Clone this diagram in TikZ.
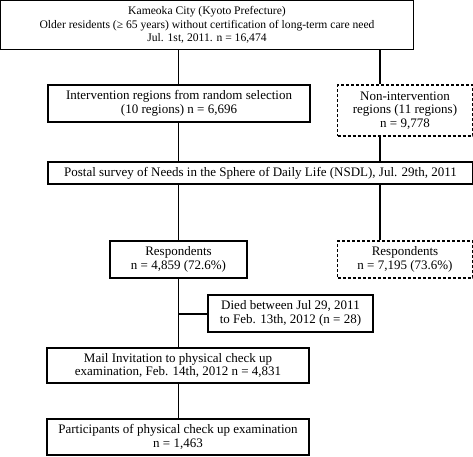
\documentclass[tikz,border=0pt]{standalone}
\usepackage{fontspec}
\setmainfont{Liberation Serif}
\begin{document}
\begin{tikzpicture}[x=1pt,y=1pt,
  box/.style={draw=black, line width=1.1pt, rectangle, inner sep=0pt, align=center,
    font=\fontsize{13}{13.8}\selectfont},
  dbox/.style={box, dash pattern=on 3pt off 2pt},
  conn/.style={draw=black, line width=1.1pt}]
\useasboundingbox (0,0) rectangle (473,-456);
\coordinate (cL) at (178.5,0);
\coordinate (cR) at (380,0);
\node[box, minimum width=413pt, minimum height=49pt, font=\fontsize{11.6}{13.8}\selectfont] (top) at (207,-25)
  {Kameoka City (Kyoto Prefecture)\\Older residents (≥ 65 years) without certification of long-term care need\\Jul. 1st, 2011. n = 16,474};
\node[box, minimum width=262pt, minimum height=37pt] (int) at (179,-103.5)
  {Intervention regions from random selection\\(10 regions) n = 6,696};
\node[dbox, minimum width=135pt, minimum height=51pt] (non) at (405,-110.5)
  {Non-intervention\\regions (11 regions)\\n = 9,778};
\node[box, minimum width=425pt, minimum height=22pt] (nsdl) at (260.5,-173)
  {Postal survey of Needs in the Sphere of Daily Life (NSDL), Jul. 29th, 2011};
\node[box, minimum width=137pt, minimum height=37pt] (resp) at (178.5,-259.5)
  {Respondents\\n = 4,859 (72.6\%)};
\node[dbox, minimum width=135pt, minimum height=37pt] (resp2) at (405,-259.5)
  {Respondents\\n = 7,195 (73.6\%)};
\node[box, minimum width=165pt, minimum height=37pt] (died) at (290.5,-313.5)
  {Died between Jul 29, 2011\\to Feb. 13th, 2012 (n = 28)};
\node[box, minimum width=262pt, minimum height=35pt] (mail) at (178,-365.5)
  {Mail Invitation to physical check up\\examination, Feb. 14th, 2012 n = 4,831};
\node[box, minimum width=262pt, minimum height=36pt] (part) at (178,-437)
  {Participants of physical check up examination\\n = 1,463};
\draw[conn] (top.south -| cL) -- (int.north -| cL);
\draw[conn] (top.south -| cR) -- (non.north -| cR);
\draw[conn] (int.south -| cL) -- (nsdl.north -| cL);
\draw[conn] (non.south -| cR) -- (nsdl.north -| cR);
\draw[conn] (nsdl.south -| cL) -- (resp.north -| cL);
\draw[conn] (nsdl.south -| cR) -- (resp2.north -| cR);
\draw[conn] (resp.south -| cL) -- (mail.north -| cL);
\draw[conn] (died.west |- 0,-314) -- (cL |- 0,-314);
\draw[conn] (mail.south -| cL) -- (part.north -| cL);
\end{tikzpicture}
\end{document}
